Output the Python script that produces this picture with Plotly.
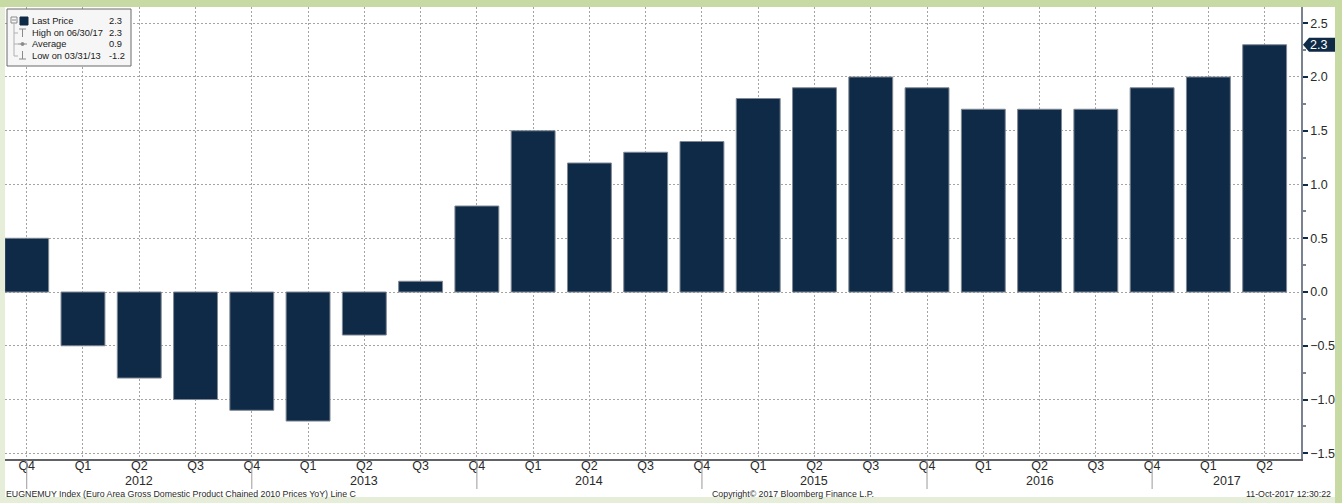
import plotly.graph_objects as go

# ---------------- data ----------------
quarters = ["Q4", "Q1", "Q2", "Q3", "Q4", "Q1", "Q2", "Q3", "Q4", "Q1", "Q2", "Q3",
            "Q4", "Q1", "Q2", "Q3", "Q4", "Q1", "Q2", "Q3", "Q4", "Q1", "Q2"]
years = [2011, 2012, 2012, 2012, 2012, 2013, 2013, 2013, 2013, 2014, 2014, 2014,
         2014, 2015, 2015, 2015, 2015, 2016, 2016, 2016, 2016, 2017, 2017]
gdp_yoy = [0.5, -0.5, -0.8, -1.0, -1.1, -1.2, -0.4, 0.1, 0.8, 1.5, 1.2, 1.3,
           1.4, 1.8, 1.9, 2.0, 1.9, 1.7, 1.7, 1.7, 1.9, 2.0, 2.3]
year_labels = ["2012", "2013", "2014", "2015", "2016", "2017"]
legend_rows = [("Last Price", "2.3"), ("High on 06/30/17", "2.3"),
               ("Average", "0.9"), ("Low on 03/31/13", "-1.2")]
last_value = gdp_yoy[-1]

# ---------------- geometry / style ----------------
W, H = 1342, 503
ML, MR, MT, MB = 5, 41, 7, 44
PW, PH = W - ML - MR, H - MT - MB
X_RANGE = [-0.386, 22.646]
Y_RANGE = [-1.553, 2.651]
NAVY = "#0e2a47"
FONT = "Liberation Sans"
TXT = "#2a2a2a"
GRID = "#a4a4a4"
GRID_DASH = "2px,2px"


def px(x):
    return (x - ML) / PW


def py(y):
    return (H - MB - y) / PH


idx = list(range(len(gdp_yoy)))

fig = go.Figure()
fig.add_trace(go.Bar(
    x=idx, y=gdp_yoy,
    marker=dict(color=NAVY, line=dict(color="#7f8894", width=1)),
    hoverinfo="x+y", showlegend=False,
))

shapes = []
annotations = []

# background frame
shapes.append(dict(type="rect", xref="paper", yref="paper", layer="below",
                   x0=px(5), x1=px(1335), y0=py(497), y1=py(7),
                   fillcolor="white", line=dict(width=0)))
shapes.append(dict(type="rect", xref="paper", yref="paper", layer="below",
                   x0=px(0), x1=px(W), y0=py(7), y1=py(0),
                   fillcolor="#c8daa4", line=dict(width=0)))
shapes.append(dict(type="rect", xref="paper", yref="paper", layer="below",
                   x0=px(1335), x1=px(W), y0=py(H), y1=py(0),
                   fillcolor="#c8daa4", line=dict(width=0)))

# year separators at Q4 positions and year labels centered between them
seps = [i for i, q in enumerate(quarters) if q == "Q4"]
for s in seps:
    shapes.append(dict(type="line", xref="x", yref="paper", x0=s, x1=s,
                       y0=py(460), y1=py(489), line=dict(color="#9a9a9a", width=1)))
bounds = seps + [X_RANGE[1]]
for k, lab in enumerate(year_labels):
    xc = (bounds[k] + bounds[k + 1]) / 2
    annotations.append(dict(x=xc, y=py(481), xref="x", yref="paper", text=lab,
                            showarrow=False, xanchor="center", yanchor="middle",
                            font=dict(family=FONT, size=12.5, color=TXT)))

# last price tag
shapes.append(dict(type="path", xref="paper", yref="y", xsizemode="pixel",
                   ysizemode="pixel", xanchor=1, yanchor=last_value,
                   path="M 2,0 L 8,7 L 34,7 L 34,-7 L 8,-7 Z",
                   fillcolor=NAVY, line=dict(width=0)))
annotations.append(dict(x=1, y=last_value, xref="paper", yref="y", xshift=7,
                        text=f"{last_value:.1f}", showarrow=False, xanchor="left",
                        yanchor="middle",
                        font=dict(family=FONT, size=12.5, color="white")))

# legend box
shapes.append(dict(type="rect", xref="paper", yref="paper",
                   x0=px(7), x1=px(131), y0=py(66), y1=py(9),
                   fillcolor="#f6f6f6", line=dict(color="#6b6b6b", width=1)))
gray = "#8a8a8a"
shapes.append(dict(type="rect", xref="paper", yref="paper",
                   x0=px(11), x1=px(17), y0=py(23), y1=py(17),
                   fillcolor="#f6f6f6", line=dict(color=gray, width=1)))
shapes.append(dict(type="line", xref="paper", yref="paper",
                   x0=px(12), x1=px(16), y0=py(20), y1=py(20),
                   line=dict(color=gray, width=1)))
shapes.append(dict(type="line", xref="paper", yref="paper",
                   x0=px(14), x1=px(14), y0=py(23), y1=py(56),
                   line=dict(color="#b0b0b0", width=1)))
row_y = [21, 33, 44, 56]
for yy in row_y[1:]:
    shapes.append(dict(type="line", xref="paper", yref="paper",
                       x0=px(14), x1=px(18), y0=py(yy), y1=py(yy),
                       line=dict(color="#b0b0b0", width=1)))
shapes.append(dict(type="rect", xref="paper", yref="paper",
                   x0=px(20), x1=px(28), y0=py(25), y1=py(17),
                   fillcolor=NAVY, line=dict(color=NAVY, width=1)))
shapes.append(dict(type="line", xref="paper", yref="paper",
                   x0=px(19), x1=px(26), y0=py(29), y1=py(29), line=dict(color=gray, width=1)))
shapes.append(dict(type="line", xref="paper", yref="paper",
                   x0=px(22.5), x1=px(22.5), y0=py(29), y1=py(37), line=dict(color=gray, width=1)))
shapes.append(dict(type="line", xref="paper", yref="paper",
                   x0=px(18), x1=px(27), y0=py(44), y1=py(44), line=dict(color=gray, width=1)))
shapes.append(dict(type="circle", xref="paper", yref="paper",
                   x0=px(21), x1=px(24), y0=py(45.5), y1=py(42.5),
                   fillcolor=gray, line=dict(color=gray, width=1)))
shapes.append(dict(type="line", xref="paper", yref="paper",
                   x0=px(22.5), x1=px(22.5), y0=py(51), y1=py(59), line=dict(color=gray, width=1)))
shapes.append(dict(type="line", xref="paper", yref="paper",
                   x0=px(19), x1=px(26), y0=py(59), y1=py(59), line=dict(color=gray, width=1)))

for (lab, val), yy in zip(legend_rows, row_y):
    annotations.append(dict(x=px(30), y=py(yy), xref="paper", yref="paper", text=lab,
                            showarrow=False, xanchor="left", yanchor="middle",
                            font=dict(family=FONT, size=9.3, color="#1a1a1a")))
    annotations.append(dict(x=px(107), y=py(yy), xref="paper", yref="paper", text=val,
                            showarrow=False, xanchor="left", yanchor="middle",
                            font=dict(family=FONT, size=9.3, color="#1a1a1a")))

# footer
annotations.append(dict(x=px(4), y=py(494), xref="paper", yref="paper",
                        text="EUGNEMUY Index (Euro Area Gross Domestic Product Chained 2010 Prices YoY) Line C",
                        showarrow=False, xanchor="left", yanchor="middle",
                        font=dict(family=FONT, size=8.8, color=TXT)))
annotations.append(dict(x=px(793), y=py(494), xref="paper", yref="paper",
                        text="Copyright\u00a9 2017 Bloomberg Finance L.P.",
                        showarrow=False, xanchor="center", yanchor="middle",
                        font=dict(family=FONT, size=8.8, color=TXT)))
annotations.append(dict(x=px(1333), y=py(494), xref="paper", yref="paper",
                        text="11-Oct-2017 12:30:22",
                        showarrow=False, xanchor="right", yanchor="middle",
                        font=dict(family=FONT, size=8.8, color=TXT)))

fig.update_layout(
    width=W, height=H,
    margin=dict(l=ML, r=MR, t=MT, b=MB, pad=0),
    paper_bgcolor="#e6eed9",
    plot_bgcolor="white",
    bargap=0.22,
    showlegend=False,
    shapes=shapes,
    annotations=annotations,
    xaxis=dict(
        range=X_RANGE, tickmode="array", tickvals=idx, ticktext=quarters,
        showgrid=True, gridcolor=GRID, griddash=GRID_DASH, gridwidth=1,
        showline=True, linecolor="#5f6368", linewidth=1.5,
        ticks="", ticklabelstandoff=-6,
        tickfont=dict(family=FONT, size=12.5, color=TXT),
        zeroline=False, fixedrange=True,
    ),
    yaxis=dict(
        side="right", range=Y_RANGE, dtick=0.5, tick0=0, tickformat=".1f",
        showgrid=True, gridcolor=GRID, griddash=GRID_DASH, gridwidth=1,
        showline=True, linecolor="#7a8290", linewidth=1.5,
        ticks="outside", ticklen=5, tickwidth=2, tickcolor=NAVY,
        minor=dict(dtick=0.25, ticks="outside", ticklen=3, tickcolor="#7a8290", showgrid=False),
        tickfont=dict(family=FONT, size=12.5, color=TXT),
        zeroline=False, fixedrange=True,
    ),
)

fig.write_html("out.html", config={"displayModeBar": False},
               post_script="document.body.style.margin='0';document.body.style.overflow='hidden';")
